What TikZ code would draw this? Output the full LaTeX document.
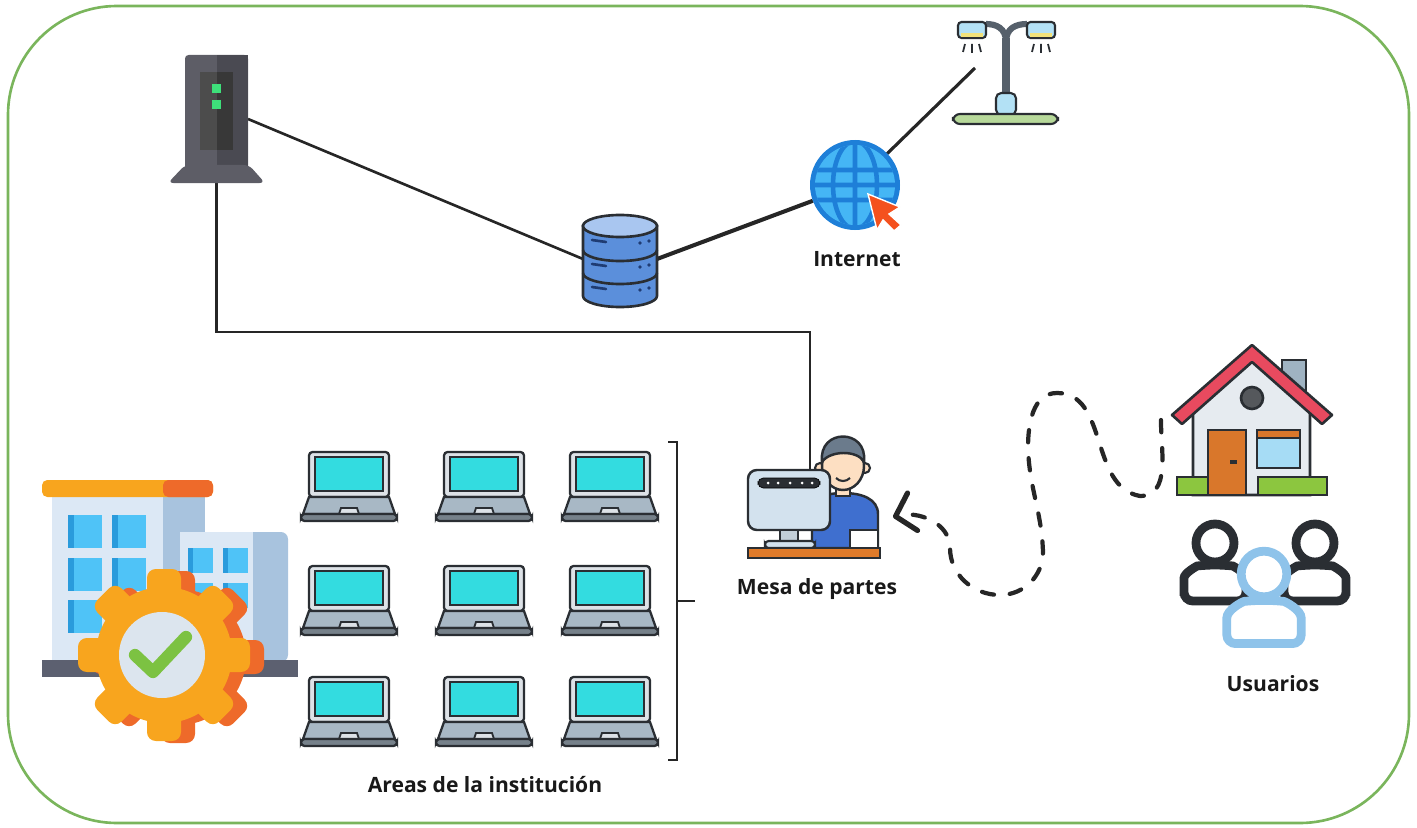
\documentclass[tikz,border=0pt]{standalone}
\usepackage{fontspec}
\setmainfont{Open Sans}
\usetikzlibrary{positioning, arrows.meta, fit}

\definecolor{framegreen}{HTML}{7AB55C}
\definecolor{wireblack}{HTML}{262626}
\definecolor{outline}{HTML}{2A2E33}
\definecolor{srvgray}{HTML}{5D5D66}
\definecolor{srvdark}{HTML}{4A4A52}
\definecolor{ledgreen}{HTML}{3EE07A}
\definecolor{dbblue}{HTML}{5B8FDB}
\definecolor{dbtop}{HTML}{A9C6F0}
\definecolor{dbnavy}{HTML}{1F3C73}
\definecolor{globeblue}{HTML}{1E7FD8}
\definecolor{globelight}{HTML}{45B6F5}
\definecolor{cursor}{HTML}{F4511E}
\definecolor{lampgray}{HTML}{56606B}
\definecolor{lampblue}{HTML}{B3E1F5}
\definecolor{lampgreen}{HTML}{B7D99A}
\definecolor{lampyellow}{HTML}{F2E27A}
\definecolor{screencyan}{HTML}{33DCE0}
\definecolor{bezel}{HTML}{DDE2E7}
\definecolor{deck}{HTML}{A8B8C5}
\definecolor{wall}{HTML}{DCE8F5}
\definecolor{wallshade}{HTML}{A8C3DE}
\definecolor{winblue}{HTML}{4FC3F7}
\definecolor{windark}{HTML}{2A9BDC}
\definecolor{roofamber}{HTML}{F8A51E}
\definecolor{roofred}{HTML}{EE6A2A}
\definecolor{basegray}{HTML}{5C6070}
\definecolor{platelight}{HTML}{DCE5EE}
\definecolor{checkgreen}{HTML}{7CC242}
\definecolor{houseroof}{HTML}{E84A5F}
\definecolor{housewall}{HTML}{E6EBF0}
\definecolor{door}{HTML}{D9772B}
\definecolor{glass}{HTML}{A6DCF5}
\definecolor{chimney}{HTML}{9FB3C2}
\definecolor{grass}{HTML}{8CC63F}
\definecolor{userblue}{HTML}{8EC3EA}
\definecolor{shirt}{HTML}{3F6FCF}
\definecolor{skin}{HTML}{FDDFC2}
\definecolor{hair}{HTML}{6B7B8C}
\definecolor{monitor}{HTML}{D3E2EE}
\definecolor{desk}{HTML}{E07B2A}

\tikzset{
	laptop/.pic={
		\filldraw[fill=bezel, draw=outline, line width=1.3pt, rounded corners=2pt] (-40,-45) rectangle (40,0);
		\filldraw[fill=screencyan, draw=outline, line width=1.3pt] (-34,-40) rectangle (34,-6);
		\filldraw[fill=deck, draw=outline, line width=1.3pt] (-40,0) -- (40,0) -- (46,17) -- (-46,17) -- cycle;
		\filldraw[fill=bezel, draw=outline, line width=1pt] (-10,17) -- (-8,11) -- (8,11) -- (10,17);
		\filldraw[fill=deck!70!black, draw=outline, line width=1.3pt, rounded corners=2pt] (-48,17) rectangle (48,24);
	},
	gear/.pic={
		\path[pic actions] circle[radius=68];
		\foreach \a in {0,45,...,315}
			\path[pic actions, rotate=\a, rounded corners=5pt] (55,-17) rectangle (86,17);
	},
	person/.pic={
		\path[pic actions] (0,0) circle[radius=19];
		\path[pic actions, rounded corners=5pt] (-31,58) -- (-31,44) .. controls (-31,30) and (-18,23) .. (-9,22) -- (9,22) .. controls (18,23) and (31,30) .. (31,44) -- (31,58) -- cycle;
	}
}

\begin{document}
\begin{tikzpicture}[
		x=0.02cm, y=-0.02cm,
		icon/.style={inner sep=0pt, outer sep=0pt},
		lbl/.style={font=\bfseries\fontsize{12pt}{14pt}\selectfont, text=black!90},
		wire/.style={draw=wireblack, line width=1.5pt},
		route/.style={draw=wireblack, line width=2.4pt, line cap=round, dash pattern=on 7pt off 9pt, -{Straight Barb[length=10pt, width=22pt, line width=3pt, round]}},
		frame/.style={draw=framegreen, line width=1.5pt, rounded corners=62pt}
		]
		
		\useasboundingbox (0,0) rectangle (1417,828);
		\draw[frame] (8,6) rectangle (1409,823);
		
		% Define Nodes
		\node[icon, fit={(185,55) (248,183)}] (server) {};
		\node[icon, fit={(583,213) (657,305)}] (db) {};
		\node[icon, circle, minimum size=1.8cm] (globe) at (855,185) {};
		\node[icon, fit={(950,15) (1058,125)}] (lamp) {};
		\node[icon, fit={(745,425) (882,560)}] (mesa) {};
		\node[icon, fit={(1175,345) (1328,495)}] (casa) {};
		\node[icon, fit={(1180,520) (1352,650)}] (users) {};
		\node[icon, fit={(40,478) (300,740)}] (inst) {};
		\node[icon, fit={(300,442) (677,760)}] (areas) {};
		
		\coordinate (lamplink) at (975,68);
		\coordinate (bus) at (810,332);
		\coordinate (desktop) at (810,470);
		\coordinate (deskin) at (893,517);
		
		% Labels
		\node[lbl] (lblnet) at (857,259) {Internet};
		\node[lbl] (lblmesa) at (817,589) {Mesa de partes};
		\node[lbl] (lblareas) at (485,785) {Areas de la institución};
		\node[lbl] (lblusers) at (1273,684) {Usuarios};
		
		% Draw links
		\draw[wire] (server.east) -- (db.west);
		\draw[wire, line width=2.3pt] (db.east) -- (globe);
		\draw[wire, line width=1.8pt] (globe) -- (lamplink);
		\draw[wire] (server.south) |- (bus) -- (desktop);
		\draw[route] ([xshift=-8pt]casa.west) to[out=-90, in=0] (1140,496)
			to[out=170, in=0] (1057,393) to[out=180, in=90] (1028,448)
			to[out=-88, in=92] (1043,552) to[out=-90, in=0] (1000,595)
			to[out=180, in=-90] (950,548) to[out=90, in=15] (deskin);
		
		% Server tower
		\fill[srvgray, rounded corners=2pt] (185,55) rectangle (248,172);
		\fill[srvdark] (217,55) rectangle (248,172);
		\fill[black!70] (200,72) rectangle (233,150);
		\fill[black!78] (217,72) rectangle (233,150);
		\fill[ledgreen] (212,84) rectangle (221,93);
		\fill[ledgreen] (212,100) rectangle (221,109);
		\fill[srvgray, rounded corners=3pt] (185,165) -- (249,165) -- (265,183) -- (168,183) -- cycle;
		
		% Database
		\filldraw[fill=dbblue, draw=outline, line width=1.5pt] (583,226) -- (583,296) arc[start angle=180, end angle=0, x radius=37, y radius=11] -- (657,226) -- cycle;
		\foreach \b in {250,273}
			\draw[outline, line width=1.5pt] (583,\b) arc[start angle=180, end angle=0, x radius=37, y radius=11];
		\filldraw[fill=dbtop, draw=outline, line width=1.5pt] (620,226) ellipse[x radius=37, y radius=11];
		\foreach \b in {226,250,273} {
			\draw[dbnavy, line width=1.5pt, line cap=round] (592,\b+14) -- (606,\b+16);
			\fill[dbnavy] (640,\b+17) circle[radius=1.8] (649,\b+15) circle[radius=1.8];
		}
		
		% Globe
		\fill[globeblue] (globe) circle[radius=45];
		\fill[globelight] (globe) circle[radius=40];
		\begin{scope}
			\clip (globe) circle[radius=40];
			\draw[globeblue, line width=2.6pt] (800,170) -- (910,170) (800,185) -- (910,185) (800,200) -- (910,200)
				(855,130) -- (855,240) (globe) ellipse[x radius=22, y radius=44];
		\end{scope}
		\filldraw[fill=cursor, draw=white, line width=0.8pt] (868,194) -- (900,207) -- (889,214) -- (901,225) -- (894,231) -- (883,220) -- (877,230) -- cycle;
		
		% Street lamp
		\draw[lampgray, line width=4pt] (1006,100) -- (1006,38);
		\draw[lampgray, line width=3.5pt] (1006,42) .. controls (1006,28) and (996,24) .. (986,24);
		\draw[lampgray, line width=3.5pt] (1006,42) .. controls (1006,28) and (1016,24) .. (1027,24);
		\foreach \c in {972,1041} {
			\filldraw[fill=lampblue, draw=outline, line width=1.2pt, rounded corners=2pt] (\c-14,22) rectangle (\c+14,38);
			\fill[lampyellow] (\c-11,33) rectangle (\c+11,37);
			\draw[outline, line width=1pt] (\c-7,44) -- (\c-9,52) (\c,44) -- (\c,53) (\c+7,44) -- (\c+9,52);
		}
		\filldraw[fill=lampblue, draw=outline, line width=1.2pt, rounded corners=3pt] (996,93) rectangle (1016,115);
		\filldraw[fill=lampgreen, draw=outline, line width=1.2pt, rounded corners=4pt] (953,114) rectangle (1058,124);
		
		% Help desk
		\filldraw[fill=shirt, draw=outline, line width=1.4pt] (812,548) -- (812,512) .. controls (812,498) and (826,493) .. (843,493) .. controls (862,493) and (878,499) .. (878,514) -- (878,548) -- cycle;
		\filldraw[fill=skin, draw=outline, line width=1.2pt] (836,484) rectangle (850,496);
		\filldraw[fill=skin, draw=outline, line width=1.2pt] (820,468) circle[radius=5] (865,468) circle[radius=5];
		\filldraw[fill=skin, draw=outline, line width=1.4pt] (843,466) ellipse[x radius=21, y radius=24];
		\filldraw[fill=hair, draw=outline, line width=1.4pt] (822,462) .. controls (818,428) and (868,428) .. (864,462) .. controls (858,450) and (830,450) .. cycle;
		\draw[outline, line width=1.2pt] (836,478) .. controls (840,482) and (846,482) .. (850,478);
		\filldraw[fill=white, draw=outline, line width=1.2pt] (850,530) rectangle (878,548);
		\filldraw[fill=monitor, draw=outline, line width=1.4pt, rounded corners=5pt] (748,470) rectangle (830,530);
		\filldraw[fill=outline, rounded corners=3pt] (758,478) rectangle (820,488);
		\foreach \d in {768,778,790,802,812}
			\fill[white] (\d,483) circle[radius=1.5];
		\filldraw[fill=monitor!80!gray, draw=outline, line width=1.2pt] (780,530) rectangle (798,542);
		\filldraw[fill=monitor, draw=outline, line width=1.2pt, rounded corners=2pt] (765,541) rectangle (815,548);
		\filldraw[fill=desk, draw=outline, line width=1.4pt] (748,548) rectangle (880,558);
		
		% Workstations
		\foreach \col/\x in {1/349, 2/484, 3/610}
			\foreach \row/\y in {1/497, 2/611, 3/722}
				\pic (pc\col\row) at (\x,\y) {laptop};
		\draw[wire] ([xshift=-5pt]areas.north east) -- (areas.north east) -- (areas.south east) -- ([xshift=-5pt]areas.south east);
		\draw[wire] (areas.east) -- ++(18,0);
		
		% Institution building
		\fill[wall] (52,495) rectangle (205,662);
		\fill[wallshade] (163,495) rectangle (205,662);
		\foreach \wx in {68,112}
			\foreach \wy in {515,558,600} {
				\fill[windark] (\wx,\wy) rectangle ++(34,33);
				\fill[winblue] (\wx+6,\wy) rectangle ++(28,33);
			}
		\fill[roofamber, rounded corners=3pt] (42,480) rectangle (213,497);
		\fill[roofred, rounded corners=3pt] (163,480) rectangle (213,497);
		\fill[wallshade, rounded corners=4pt] (180,532) rectangle (288,662);
		\fill[wall] (180,532) rectangle (253,662);
		\foreach \wx in {188,223}
			\foreach \wy in {548,583} {
				\fill[windark] (\wx,\wy) rectangle ++(25,25);
				\fill[winblue] (\wx+5,\wy) rectangle ++(20,25);
			}
		\fill[basegray] (42,660) rectangle (298,677);
		\pic[fill=roofred] at (178,657) {gear};
		\pic[fill=roofamber] at (164,655) {gear};
		\fill[platelight] (162,655) circle[radius=43];
		\draw[checkgreen, line width=7pt, line cap=round, line join=round] (135,655) -- (153,672) -- (186,637);
		
		% House
		\filldraw[fill=chimney, draw=outline, line width=1.5pt] (1282,360) rectangle (1306,398);
		\filldraw[fill=housewall, draw=outline, line width=1.5pt] (1193,410) -- (1252,358) -- (1310,410) -- (1310,495) -- (1193,495) -- cycle;
		\filldraw[fill=houseroof, draw=outline, line width=1.5pt, line join=round] (1172,415) -- (1252,345) -- (1332,415) -- (1322,424) -- (1252,362) -- (1182,424) -- cycle;
		\filldraw[fill=outline!80, draw=outline, line width=1.5pt] (1252,398) circle[radius=11];
		\filldraw[fill=door, draw=outline, line width=1.5pt] (1208,430) rectangle (1246,495);
		\draw[outline, line width=2pt] (1230,462) -- (1237,462);
		\filldraw[fill=glass, draw=outline, line width=1.5pt] (1257,430) rectangle (1300,468);
		\filldraw[fill=door, draw=outline, line width=1.5pt] (1257,430) rectangle (1300,438);
		\filldraw[fill=grass, draw=outline, line width=1.5pt] (1177,477) rectangle (1208,495);
		\filldraw[fill=grass, draw=outline, line width=1.5pt] (1258,477) rectangle (1327,495);
		
		% Users
		\pic[draw=outline, fill=white, line width=5pt] at (1215,543) {person};
		\pic[draw=outline, fill=white, line width=5pt] at (1315,543) {person};
		\pic[draw=userblue, fill=white, line width=5pt, scale=1.2] at (1264,574) {person};
		
	\end{tikzpicture}
\end{document}
